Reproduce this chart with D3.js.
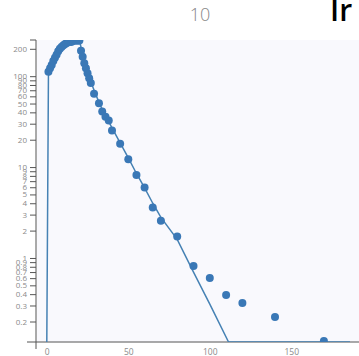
<!DOCTYPE html>
<html>
<head>
<meta charset="utf-8">
<script src="https://cdn.jsdelivr.net/npm/d3@7"></script>
<style>
  html, body { margin: 0; padding: 0; background: #ffffff; }
  svg { display: block; }
  .tick text { font-family: "Open Sans", "Liberation Sans", sans-serif; fill: #8a8a8a; }
</style>
</head>
<body>
<svg id="chart" width="359" height="356"></svg>
<script>
// Observed concentrations (time in h, concentration)
const obsTime = [1, 2, 3, 4, 5, 6, 7, 8, 9, 10, 11, 12, 13, 14, 15, 16, 17, 18, 19, 20,
                 21, 22, 23, 24, 25, 26, 27, 29, 32, 34, 36, 38, 40, 45, 50, 55, 60, 65, 70, 80,
                 90, 100, 110, 120, 140, 170];
const obsConc = [112, 122, 133, 147, 159, 172, 188, 200, 210, 218, 224, 230, 236, 240, 238, 244, 246, 249, 245, 247,
                 191, 164, 139, 122, 108, 95, 84, 64, 50.5, 40.8, 35.7, 32.5, 25.2, 18, 12.2, 8.2, 5.95, 3.58, 2.56, 1.72,
                 0.815, 0.601, 0.391, 0.319, 0.224, 0.122];

// Fitted model curve
const fitTime = [0, 1, 2, 4, 6, 8, 10, 12, 14, 16, 18, 20, 22, 24, 26, 28, 30, 33, 36, 40, 45, 50, 55, 60, 65, 70, 80, 90, 100, 111.5, 186];
const fitConc = [0.119, 100, 118, 142, 168, 190, 207, 222, 233, 241, 247, 252, 172, 126, 98, 78, 63, 47, 37, 27, 18.5, 12.6, 8.5, 5.9, 4.0, 2.8, 1.6, 0.7, 0.31, 0.119, 0.119];

const yTickValues = [0.2, 0.3, 0.4, 0.5, 0.6, 0.7, 0.8, 0.9, 1, 2, 3, 4, 5, 6, 7, 8, 9, 10, 20, 30, 40, 50, 60, 70, 80, 90, 100, 200];
const xTickValues = [0, 50, 100, 150];
const titleText = "10";
const sideText = "Ir";

const svg = d3.select("#chart");
const plot = { left: 37, top: 40, right: 359, bottom: 342 };

const x = d3.scaleLinear().domain([0, 150]).range([46.8, 291.3]);
const y = d3.scaleLog().domain([0.119, 250]).range([plot.bottom, plot.top]).clamp(true);

// plot background
svg.append("rect")
  .attr("x", plot.left).attr("y", plot.top)
  .attr("width", plot.right - plot.left).attr("height", plot.bottom - plot.top)
  .attr("fill", "#f9f9fd");

svg.append("defs").append("clipPath").attr("id", "clip")
  .append("rect")
  .attr("x", plot.left).attr("y", plot.top)
  .attr("width", plot.right - plot.left).attr("height", plot.bottom - plot.top);

// axes
const yAxis = svg.append("g")
  .attr("transform", "translate(36,0)")
  .call(d3.axisLeft(y).tickValues(yTickValues).tickFormat(d3.format("")).tickSize(6).tickPadding(3));
yAxis.select(".domain").attr("d", "M-6," + plot.top + "H0V349").attr("stroke", "#555");
yAxis.selectAll(".tick line").attr("stroke", "#555");
yAxis.selectAll(".tick text").style("font-size", "8px");

const xAxis = svg.append("g")
  .attr("transform", "translate(0," + plot.bottom + ")")
  .call(d3.axisBottom(x).tickValues(xTickValues).tickSize(0).tickPadding(7));
xAxis.select(".domain").attr("d", "M27,0H359").attr("stroke", "#555");
xAxis.selectAll(".tick text").style("font-size", "8.5px");

const g = svg.append("g").attr("clip-path", "url(#clip)");

const fit = fitTime.map((t, i) => [t, fitConc[i]]);
g.append("path")
  .datum(fit)
  .attr("fill", "none")
  .attr("stroke", "#4682b4")
  .attr("stroke-width", 1.5)
  .attr("d", d3.line().x(d => x(d[0])).y(d => y(d[1])));

g.selectAll("circle")
  .data(obsTime.map((t, i) => [t, obsConc[i]]))
  .join("circle")
  .attr("cx", d => x(d[0]))
  .attr("cy", d => y(d[1]))
  .attr("r", 4)
  .attr("fill", "#3a78b6");

// texts
svg.append("text")
  .attr("x", 200).attr("y", 20.5)
  .attr("text-anchor", "middle")
  .style("font-family", "'Open Sans', sans-serif")
  .style("font-size", "18px")
  .style("font-weight", 300)
  .attr("fill", "#888")
  .text(titleText);

svg.append("text")
  .attr("x", 330).attr("y", 21)
  .style("font-family", "'Open Sans', 'Liberation Sans', sans-serif")
  .style("font-size", "30px")
  .style("font-weight", 600)
  .attr("fill", "#000")
  .text(sideText);
</script>
</body>
</html>
